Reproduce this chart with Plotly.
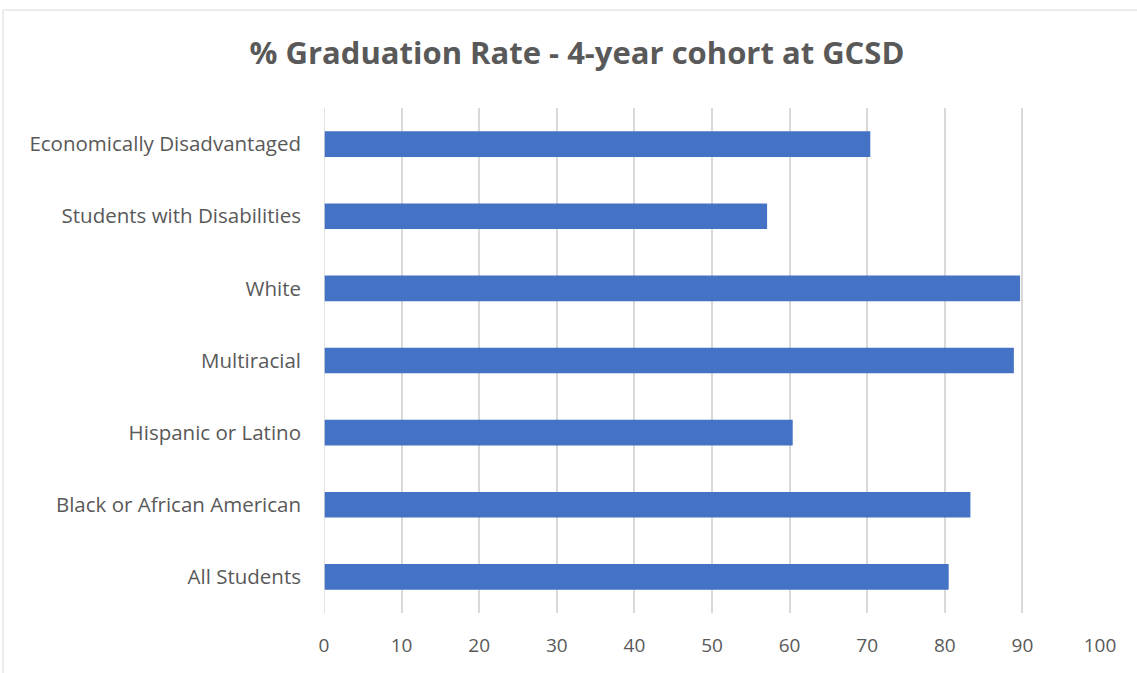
import plotly.graph_objects as go

# Graduation rate by student group (bottom to top)
groups = [
    "All Students",
    "Black or African American",
    "Hispanic or Latino",
    "Multiracial",
    "White",
    "Students with Disabilities",
    "Economically Disadvantaged",
]
rates = [80.5, 83.3, 60.4, 88.9, 89.7, 57.1, 70.4]
x_ticks = [0, 10, 20, 30, 40, 50, 60, 70, 80, 90, 100]

W, H = 1137, 673
L, R, T, B = 324, 37, 108, 60
pw, ph = W - L - R, H - T - B

font_family = "Open Sans, Calibri, sans-serif"
text_color = "#595959"

fig = go.Figure(
    go.Bar(
        x=rates,
        y=groups,
        orientation="h",
        marker=dict(color="#4472C4", line=dict(width=0)),
        hoverinfo="x+y",
    )
)

fig.update_layout(
    width=W,
    height=H,
    margin=dict(l=L, r=R, t=T, b=B, pad=0),
    paper_bgcolor="white",
    plot_bgcolor="white",
    bargap=0.645,
    showlegend=False,
    title=dict(
        text="<b>% Graduation Rate - 4-year cohort at GCSD</b>",
        x=577 / W,
        xref="container",
        xanchor="center",
        y=1 - 53 / H,
        yref="container",
        yanchor="middle",
        font=dict(family=font_family, size=31, color=text_color),
    ),
    xaxis=dict(
        range=[0, 100],
        tickvals=x_ticks,
        showgrid=True,
        gridcolor="#d9d9d9",
        gridwidth=1.5,
        zeroline=False,
        showline=False,
        ticks="",
        ticklabelstandoff=19,
        tickfont=dict(family=font_family, size=19, color=text_color),
    ),
    yaxis=dict(
        type="category",
        categoryorder="array",
        categoryarray=groups,
        showgrid=False,
        zeroline=False,
        showline=False,
        ticks="",
        ticklabelstandoff=22,
        tickfont=dict(family=font_family, size=20.5, color=text_color),
    ),
    shapes=[
        # vertical rule at zero
        dict(
            type="line", xref="x", yref="paper",
            x0=0, x1=0, y0=0, y1=1,
            line=dict(color="#d9d9d9", width=1.5),
        ),
        # chart frame
        dict(
            type="rect", xref="paper", yref="paper",
            x0=(3 - L) / pw, x1=(W + 5 - L) / pw,
            y0=(H - (H + 5) - B) / ph, y1=(H - 10 - B) / ph,
            line=dict(color="#d9d9d9", width=1),
            layer="below",
        ),
    ],
)

fig.write_html("out.html")
